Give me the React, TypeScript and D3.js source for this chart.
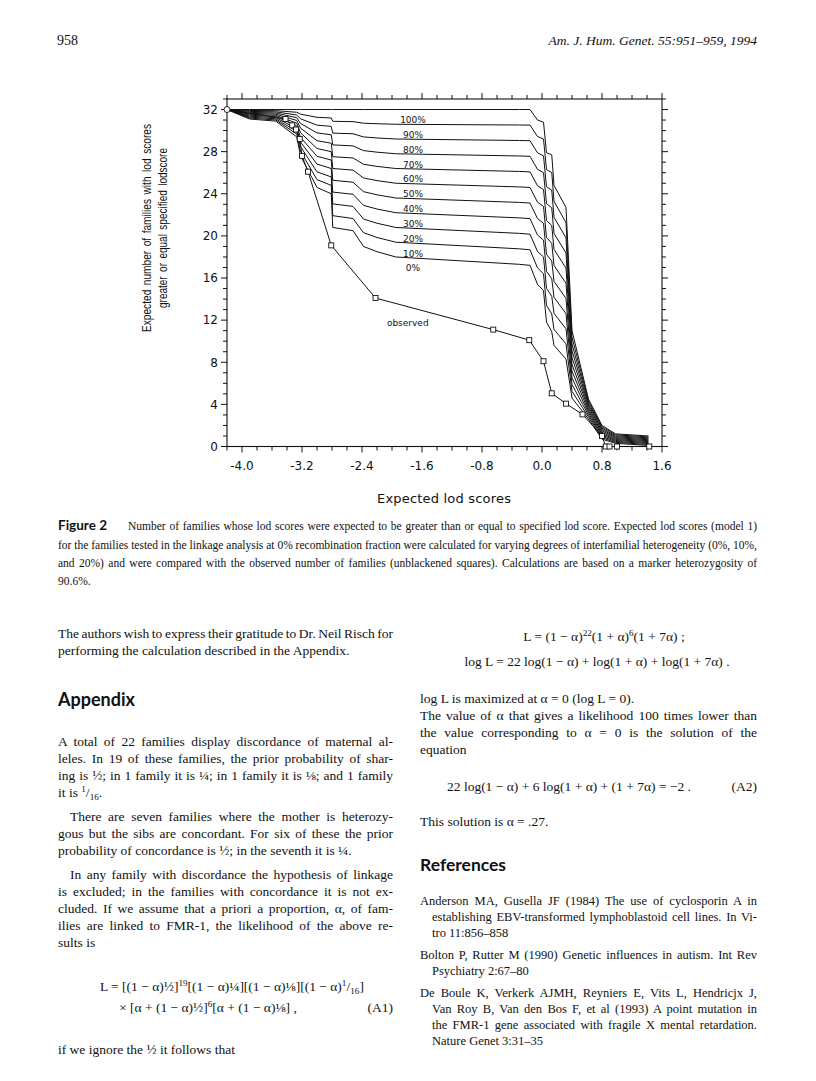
import React, { useLayoutEffect, useRef } from 'react';
import * as d3 from 'd3';

// ---------- chart data ----------
const lodGrid = [-4.2, -3.9, -3.55, -3.27, -3.22, -3.0, -2.81, -2.79, -2.52, -2.38, -2.2, -1.95, -0.3, -0.16, -0.06, 0.02, 0.06, 0.13, 0.16, 0.32, 0.40, 0.62, 0.80, 0.98, 1.42];

const het0 = [32, 31.1, 30.9, 29.4, 27.6, 24.6, 24.0, 20.8, 20.5, 19.0, 18.5, 18.0, 17.3, 17.2, 15.4, 14.8, 11.8, 10.9, 9.6, 8.3, 4.6, 2.6, 0.7, 0.3, 0.1];
const het10 = [32, 31.19, 31.01, 29.66, 28.04, 25.34, 24.8, 21.92, 21.65, 20.3, 19.85, 19.4, 18.77, 18.68, 16.96, 16.4, 13.41, 12.58, 11.12, 9.74, 5.24, 2.79, 0.83, 0.39, 0.19];
const het20 = [32, 31.28, 31.12, 29.92, 28.48, 26.08, 25.6, 23.04, 22.8, 21.6, 21.2, 20.8, 20.24, 20.16, 18.52, 18.0, 15.02, 14.26, 12.64, 11.18, 5.88, 2.98, 0.96, 0.48, 0.28];
const het30 = [32, 31.37, 31.23, 30.18, 28.92, 26.82, 26.4, 24.16, 23.95, 22.9, 22.55, 22.2, 21.71, 21.64, 20.08, 19.6, 16.63, 15.94, 14.16, 12.62, 6.52, 3.17, 1.09, 0.57, 0.37];
const het40 = [32, 31.46, 31.34, 30.44, 29.36, 27.56, 27.2, 25.28, 25.1, 24.2, 23.9, 23.6, 23.18, 23.12, 21.64, 21.2, 18.24, 17.62, 15.68, 14.06, 7.16, 3.36, 1.22, 0.66, 0.46];
const het50 = [32, 31.55, 31.45, 30.7, 29.8, 28.3, 28.0, 26.4, 26.25, 25.5, 25.25, 25.0, 24.65, 24.6, 23.2, 22.8, 19.85, 19.3, 17.2, 15.5, 7.8, 3.55, 1.35, 0.75, 0.55];
const het60 = [32, 31.64, 31.56, 30.96, 30.24, 29.04, 28.8, 27.52, 27.4, 26.8, 26.6, 26.4, 26.12, 26.08, 24.76, 24.4, 21.46, 20.98, 18.72, 16.94, 8.44, 3.74, 1.48, 0.84, 0.64];
const het70 = [32, 31.73, 31.67, 31.22, 30.68, 29.78, 29.6, 28.64, 28.55, 28.1, 27.95, 27.8, 27.59, 27.56, 26.32, 26.0, 23.07, 22.66, 20.24, 18.38, 9.08, 3.93, 1.61, 0.93, 0.73];
const het80 = [32, 31.82, 31.78, 31.48, 31.12, 30.52, 30.4, 29.76, 29.7, 29.4, 29.3, 29.2, 29.06, 29.04, 27.88, 27.6, 24.68, 24.34, 21.76, 19.82, 9.72, 4.12, 1.74, 1.02, 0.82];
const het90 = [32, 31.91, 31.89, 31.74, 31.56, 31.26, 31.2, 30.88, 30.85, 30.7, 30.65, 30.6, 30.53, 30.52, 29.44, 29.2, 26.29, 26.02, 23.28, 21.26, 10.36, 4.31, 1.87, 1.11, 0.91];
const het100 = [32, 32, 32, 32, 32, 32, 32, 32, 32, 32, 32, 32, 32, 32, 31.0, 30.8, 27.9, 27.7, 24.8, 22.7, 11.0, 4.5, 2.0, 1.2, 1.0];

const hetLabels = ['0%', '10%', '20%', '30%', '40%', '50%', '60%', '70%', '80%', '90%', '100%'];

const obsLod = [-4.2, -3.42, -3.33, -3.28, -3.23, -3.2, -3.12, -2.81, -2.22, -0.65, -0.17, 0.02, 0.13, 0.32, 0.54, 0.8, 0.85, 0.9, 1.0, 1.43];
const obsCount = [32, 31.1, 30.5, 30.1, 29.2, 27.6, 26.1, 19.1, 14.1, 11.1, 10.1, 8.1, 5.05, 4.07, 3.05, 1.0, 0, 0, 0, 0];

const xTickValues = [-4.0, -3.2, -2.4, -1.6, -0.8, 0.0, 0.8, 1.6];
const xTickLabels = ['-4.0', '-3.2', '-2.4', '-1.6', '-0.8', '0.0', '0.8', '1.6'];
const yTickValues = [0, 4, 8, 12, 16, 20, 24, 28, 32];
const yTickLabels = ['0', '4', '8', '12', '16', '20', '24', '28', '32'];

// ---------- fonts ----------
const serif = '"Liberation Serif", "DejaVu Serif", serif';
const headSans = 'Lato, "Open Sans", sans-serif';
const chartFont = '"DejaVu Sans", Verdana, sans-serif';
const titleFont = '"Liberation Sans", Arial, sans-serif';

type Seg = string | { sup: string } | { sub: string };

function Rich({ segs, size }: { segs: Seg[]; size: number }) {
  let shift = 0;
  const small = size * 0.68;
  return (
    <>
      {segs.map((s, i) => {
        if (typeof s === 'string') {
          const dy = -shift;
          shift = 0;
          return <tspan key={i} dy={dy}>{s}</tspan>;
        }
        if ('sup' in s) {
          const d = -size * 0.38;
          const dy = d - shift;
          shift = d;
          return <tspan key={i} dy={dy} fontSize={small}>{s.sup}</tspan>;
        }
        const d = size * 0.22;
        const dy = d - shift;
        shift = d;
        return <tspan key={i} dy={dy} fontSize={small}>{s.sub}</tspan>;
      })}
    </>
  );
}

function T({ x, y, w, size = 13.5, children, anchor, italic, bold, family }: any) {
  return (
    <text
      x={x}
      y={y}
      fontSize={size}
      fontFamily={family || serif}
      fontStyle={italic ? 'italic' : undefined}
      fontWeight={bold ? 'bold' : undefined}
      textAnchor={anchor}
      data-w={w}
      fill="#111"
    >
      {children}
    </text>
  );
}

export default function App() {
  const svgRef = useRef<SVGSVGElement>(null);
  const W = 816;
  const H = 1081;
  const x = d3.scaleLinear().domain([-4.2, 1.6]).range([227, 662]);
  const y = d3.scaleLinear().domain([0, 33]).range([446.5, 99]);
  const curves = [het0, het10, het20, het30, het40, het50, het60, het70, het80, het90, het100];
  const line = d3.line<number>().x((_, i) => x(lodGrid[i])).y((d) => y(d));
  const obsLine = d3.line<number>().x((_, i) => x(obsLod[i])).y((d) => y(d));
  const xMinor = d3.range(-4.2, 1.601, 0.2);
  const yMinor = d3.range(0, 33.001, 1);
  const isMajorX = (v: number) => xTickValues.some((t) => Math.abs(t - v) < 1e-6);
  const isMajorY = (v: number) => yTickValues.some((t) => Math.abs(t - v) < 1e-6);
  const [x0, x1] = x.range();
  const [yb, yt] = y.range();
  const labelLod = -1.72;

  // justify lines by widening word spaces (like the printed page)
  useLayoutEffect(() => {
    const svg = svgRef.current;
    if (!svg) return;
    svg.querySelectorAll<SVGTextElement>('text[data-w]').forEach((t) => {
      const w = +(t.getAttribute('data-w') || 0);
      if (!w) return;
      const len = t.getComputedTextLength();
      const n = ((t.textContent || '').match(/ /g) || []).length;
      if (n > 0) t.setAttribute('word-spacing', String((w - len) / n));
      const after = t.getComputedTextLength();
      if (Math.abs(after - w) > 2) {
        t.removeAttribute('word-spacing');
        t.setAttribute('textLength', String(w));
        t.setAttribute('lengthAdjust', 'spacing');
      }
    });
  }, []);

  return (
    <svg ref={svgRef} width={W} height={H} viewBox={`0 0 ${W} ${H}`} style={{ position: 'absolute', left: 0, top: 0, background: '#fff' }}>
      <rect x={0} y={0} width={W} height={H} fill="#fff" />

      {/* ---------- running head ---------- */}
      <T x={57} y={45} size={14}>958</T>
      <T x={757} y={45} size={13.5} italic anchor="end">Am. J. Hum. Genet. 55:951–959, 1994</T>

      {/* ---------- chart ---------- */}
      <g fontFamily={chartFont} fill="#111">
        <rect x={x0} y={yt} width={x1 - x0} height={yb - yt} fill="none" stroke="#111" strokeWidth={1.1} />
        {xMinor.map((v, i) => {
          const L = isMajorX(v) ? 6 : 4;
          return (
            <g key={'xt' + i} stroke="#111" strokeWidth={1}>
              <line x1={x(v)} x2={x(v)} y1={yb} y2={yb + L} />
              <line x1={x(v)} x2={x(v)} y1={yt} y2={yt - L} />
            </g>
          );
        })}
        {yMinor.map((v, i) => {
          const L = isMajorY(v) ? 6 : 4;
          return (
            <g key={'yt' + i} stroke="#111" strokeWidth={1}>
              <line x1={x0} x2={x0 - L} y1={y(v)} y2={y(v)} />
              <line x1={x1} x2={x1 + L} y1={y(v)} y2={y(v)} />
            </g>
          );
        })}
        {xTickValues.map((v, i) => (
          <text key={'xl' + i} x={x(v)} y={470} fontSize={12} textAnchor="middle">{xTickLabels[i]}</text>
        ))}
        {yTickValues.map((v, i) => (
          <text key={'yl' + i} x={218} y={y(v)} dy="0.36em" fontSize={12} textAnchor="end">{yTickLabels[i]}</text>
        ))}
        <text x={444} y={503} fontSize={13} textAnchor="middle" textLength={134} lengthAdjust="spacing">Expected lod scores</text>
        <g transform="translate(151,228) rotate(-90)">
          <text x={0} y={0} fontSize={12} fontFamily={titleFont} textAnchor="middle" textLength={208} lengthAdjust="spacingAndGlyphs" wordSpacing={2}>Expected number of families with lod scores</text>
        </g>
        <g transform="translate(167,228) rotate(-90)">
          <text x={0} y={0} fontSize={12} fontFamily={titleFont} textAnchor="middle" textLength={160} lengthAdjust="spacingAndGlyphs" wordSpacing={2}>greater or equal specified lodscore</text>
        </g>

        {/* expected curves */}
        {curves.map((c, k) => (
          <path key={'c' + k} d={line(c) || ''} fill="none" stroke="#111" strokeWidth={1} strokeLinejoin="round" />
        ))}
        {curves.map((c, k) => {
          const interp = d3.scaleLinear().domain(lodGrid).range(c);
          return (
            <text key={'lab' + k} x={x(labelLod)} y={y(interp(labelLod)) + 13.5} fontSize={9} textAnchor="middle">{hetLabels[k]}</text>
          );
        })}

        {/* observed */}
        <path d={obsLine(obsCount) || ''} fill="none" stroke="#111" strokeWidth={1} />
        {obsCount.map((v, i) =>
          i === 0 ? (
            <circle key={'o' + i} cx={x(obsLod[i])} cy={y(v)} r={3} fill="#fff" stroke="#111" strokeWidth={0.9} />
          ) : (
            <rect key={'o' + i} x={x(obsLod[i]) - 2.5} y={y(v) - 2.5} width={5} height={5} fill="#fff" stroke="#111" strokeWidth={0.9} />
          )
        )}
        <text x={x(-1.79)} y={y(11.45)} fontSize={9} textAnchor="middle">observed</text>
      </g>

      {/* ---------- caption ---------- */}
      <T x={58} y={530} size={13.5} bold family={headSans}>Figure 2</T>
      <T x={128} y={530} size={11.5} w={629}>Number of families whose lod scores were expected to be greater than or equal to specified lod score. Expected lod scores (model 1)</T>
      <T x={58} y={548.5} size={11.5} w={699}>for the families tested in the linkage analysis at 0% recombination fraction were calculated for varying degrees of interfamilial heterogeneity (0%, 10%,</T>
      <T x={58} y={567} size={11.5} w={699}>and 20%) and were compared with the observed number of families (unblackened squares). Calculations are based on a marker heterozygosity of</T>
      <T x={58} y={585} size={11.5}>90.6%.</T>

      {/* ---------- left column ---------- */}
      <T x={58} y={638} w={335}>The authors wish to express their gratitude to Dr. Neil Risch for</T>
      <T x={58} y={655}>performing the calculation described in the Appendix.</T>
      <T x={58} y={706} size={18} bold family={headSans}>Appendix</T>
      <T x={58} y={746} w={335}>A total of 22 families display discordance of maternal al-</T>
      <T x={58} y={763} w={335}>leles. In 19 of these families, the prior probability of shar-</T>
      <T x={58} y={780} w={335}>ing is ½; in 1 family it is ¼; in 1 family it is ⅛; and 1 family</T>
      <T x={58} y={797}><Rich size={13.5} segs={['it is ', { sup: '1' }, '/', { sub: '16' }, '.']} /></T>
      <T x={70} y={821} w={323}>There are seven families where the mother is heterozy-</T>
      <T x={58} y={838} w={335}>gous but the sibs are concordant. For six of these the prior</T>
      <T x={58} y={855}>probability of concordance is ½; in the seventh it is ¼.</T>
      <T x={70} y={879} w={323}>In any family with discordance the hypothesis of linkage</T>
      <T x={58} y={896} w={335}>is excluded; in the families with concordance it is not ex-</T>
      <T x={58} y={913} w={335}>cluded. If we assume that a priori a proportion, α, of fam-</T>
      <T x={58} y={930} w={335}>ilies are linked to FMR-1, the likelihood of the above re-</T>
      <T x={58} y={947}>sults is</T>
      <T x={100} y={991}>
        <Rich size={13.5} segs={['L = [(1 − α)½]', { sup: '19' }, '[(1 − α)¼][(1 − α)⅛][(1 − α)', { sup: '1' }, '/', { sub: '16' }, ']']} />
      </T>
      <T x={119} y={1012}>
        <Rich size={13.5} segs={['× [α + (1 − α)½]', { sup: '6' }, '[α + (1 − α)⅛] ,']} />
      </T>
      <T x={393} y={1012} anchor="end">(A1)</T>
      <T x={58} y={1054}>if we ignore the ½ it follows that</T>

      {/* ---------- right column ---------- */}
      <T x={604} y={641} anchor="middle">
        <Rich size={13.5} segs={['L = (1 − α)', { sup: '22' }, '(1 + α)', { sup: '6' }, '(1 + 7α) ;']} />
      </T>
      <T x={597} y={666} anchor="middle">log L = 22 log(1 − α) + log(1 + α) + log(1 + 7α) .</T>
      <T x={420} y={703}>log L is maximized at α = 0 (log L = 0).</T>
      <T x={420} y={720} w={337}>The value of α that gives a likelihood 100 times lower than</T>
      <T x={420} y={737} w={337}>the value corresponding to α = 0 is the solution of the</T>
      <T x={420} y={754}>equation</T>
      <T x={447} y={791}>22 log(1 − α) + 6 log(1 + α) + (1 + 7α) = −2 .</T>
      <T x={757} y={791} anchor="end">(A2)</T>
      <T x={420} y={826}>This solution is α = .27.</T>
      <T x={420} y={871} size={17.5} bold family={headSans}>References</T>
      <T x={420} y={905} size={12.5} w={337}>Anderson MA, Gusella JF (1984) The use of cyclosporin A in</T>
      <T x={432} y={921} size={12.5} w={325}>establishing EBV-transformed lymphoblastoid cell lines. In Vi-</T>
      <T x={432} y={937} size={12.5}>tro 11:856–858</T>
      <T x={420} y={959} size={12.5} w={337}>Bolton P, Rutter M (1990) Genetic influences in autism. Int Rev</T>
      <T x={432} y={975} size={12.5}>Psychiatry 2:67–80</T>
      <T x={420} y={997} size={12.5} w={337}>De Boule K, Verkerk AJMH, Reyniers E, Vits L, Hendricjx J,</T>
      <T x={432} y={1013} size={12.5} w={325}>Van Roy B, Van den Bos F, et al (1993) A point mutation in</T>
      <T x={432} y={1029} size={12.5} w={325}>the FMR-1 gene associated with fragile X mental retardation.</T>
      <T x={432} y={1045} size={12.5}>Nature Genet 3:31–35</T>
    </svg>
  );
}
